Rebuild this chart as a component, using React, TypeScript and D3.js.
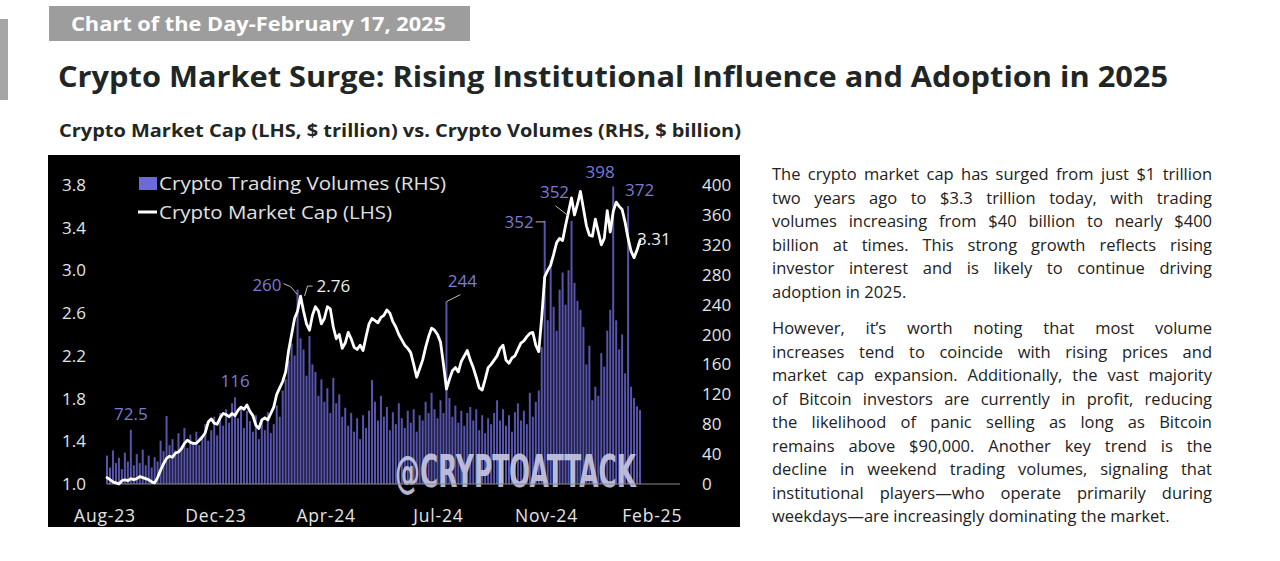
import React, { useLayoutEffect, useRef } from "react";
import * as d3 from "d3";

// Crypto market cap ($ trillion), roughly every 3 days Aug-23 .. Feb-25
const capValues: number[] = [
  1.06, 1.04, 1.02, 1.01, 1.0, 1.03, 1.04, 1.03, 1.05, 1.04,
  1.05, 1.07, 1.06, 1.05, 1.04, 1.02, 1.01, 1.06, 1.13, 1.19,
  1.24, 1.26, 1.25, 1.29, 1.3, 1.33, 1.38, 1.41, 1.39, 1.38,
  1.38, 1.41, 1.44, 1.48, 1.58, 1.61, 1.57, 1.56, 1.62, 1.66,
  1.65, 1.63, 1.66, 1.64, 1.69, 1.72, 1.7, 1.74, 1.68, 1.64,
  1.55, 1.52, 1.6, 1.62, 1.6, 1.66, 1.72, 1.84, 1.9, 1.96,
  2.05, 2.25, 2.4, 2.55, 2.62, 2.76, 2.62, 2.5, 2.44, 2.58,
  2.66, 2.62, 2.5, 2.55, 2.66, 2.64, 2.47, 2.36, 2.4, 2.27,
  2.32, 2.42, 2.36, 2.28, 2.26, 2.3, 2.25, 2.38, 2.5, 2.55,
  2.53, 2.51, 2.56, 2.58, 2.63, 2.6, 2.52, 2.47, 2.4, 2.35,
  2.3, 2.27, 2.23, 2.12, 2.0, 2.08, 2.16, 2.28, 2.38, 2.46,
  2.44, 2.4, 2.33, 2.12, 1.89, 1.98, 2.06, 2.09, 2.05, 2.15,
  2.2, 2.25, 2.16, 2.09, 2.0, 1.9, 1.88, 1.98, 2.09, 2.12,
  2.16, 2.2, 2.27, 2.3, 2.16, 2.13, 2.18, 2.2, 2.26, 2.32,
  2.34, 2.38, 2.41, 2.42, 2.3, 2.24, 2.56, 2.94, 3.0, 3.05,
  3.15, 3.26, 3.3, 3.28, 3.42, 3.55, 3.68, 3.52, 3.62, 3.74,
  3.58, 3.42, 3.33, 3.32, 3.48, 3.36, 3.24, 3.3, 3.56, 3.36,
  3.55, 3.64, 3.6, 3.57, 3.45, 3.3, 3.18, 3.12, 3.19, 3.28,
];

// Crypto trading volumes ($ billion), same dates
const volValues: number[] = [
  38, 22, 45, 28, 35, 20, 42, 30, 72.5, 25,
  40, 28, 46, 25, 38, 22, 36, 30, 58, 44,
  91, 52, 60, 45, 68, 50, 75, 48, 66, 55,
  70, 52, 64, 80, 58, 72, 90, 65, 95, 78,
  100, 82, 108, 116, 88, 104, 75, 98, 84, 70,
  92, 60, 85, 72, 96, 68, 80, 105, 90, 125,
  140, 165, 188, 172, 260, 195, 180, 145, 198, 160,
  150, 118, 140, 110, 128, 95, 142, 108, 120, 90,
  102, 78, 95, 70, 88, 60, 92, 75, 98, 139,
  110, 85, 118, 90, 103, 72, 96, 80, 108, 88,
  75, 98, 82, 100, 70, 92, 85, 110, 95, 122,
  100, 88, 112, 95, 244, 115, 90, 105, 82, 98,
  78, 95, 103, 85, 100, 72, 92, 68, 88, 80,
  95, 112, 85, 100, 78, 92, 70, 96, 108, 85,
  98, 80, 122, 90, 110, 125, 183, 352, 219, 300,
  237, 205, 260, 283, 240, 286, 352, 269, 245, 233,
  210, 160, 185, 112, 130, 118, 175, 157, 205, 233,
  398, 219, 180, 200, 148, 372, 130, 115, 104, 99,
];

const xTickLabels = ["Aug-23", "Dec-23", "Apr-24", "Jul-24", "Nov-24", "Feb-25"];
const xTickIdx = [-0.7, 36.6, 73.6, 111.3, 147.6, 183.1];
const leftTicks = [1.0, 1.4, 1.8, 2.2, 2.6, 3.0, 3.4, 3.8];
const rightTicks = [0, 40, 80, 120, 160, 200, 240, 280, 320, 360, 400];

const headerText = "Chart of the Day-February 17, 2025";
const titleText = "Crypto Market Surge: Rising Institutional Influence and Adoption in 2025";
const subtitleText = "Crypto Market Cap (LHS, $ trillion) vs. Crypto Volumes (RHS, $ billion)";
const legendVol = "Crypto Trading Volumes (RHS)";
const legendCap = "Crypto Market Cap (LHS)";
const watermark = "@CRYPTOATTACK";

const para1 = [
  "The crypto market cap has surged from just $1 trillion",
  "two years ago to $3.3 trillion today, with trading",
  "volumes increasing from $40 billion to nearly $400",
  "billion at times. This strong growth reflects rising",
  "investor interest and is likely to continue driving",
  "adoption in 2025.",
];
const para2 = [
  "However, it\u2019s worth noting that most volume",
  "increases tend to coincide with rising prices and",
  "market cap expansion. Additionally, the vast majority",
  "of Bitcoin investors are currently in profit, reducing",
  "the likelihood of panic selling as long as Bitcoin",
  "remains above $90,000. Another key trend is the",
  "decline in weekend trading volumes, signaling that",
  "institutional players\u2014who operate primarily during",
  "weekdays\u2014are increasingly dominating the market.",
];

const F = "'Open Sans', 'DejaVu Sans', sans-serif";
const PURPLE = "#7b79d6";

export default function App() {
  const gRef = useRef<SVGGElement>(null);

  useLayoutEffect(() => {
    const run = () => {
      const g = gRef.current;
      if (!g) return;
      g.querySelectorAll("text[data-justify]").forEach((t: any) => {
        const target = +t.getAttribute("data-justify");
        t.setAttribute("word-spacing", "0");
        const w = t.getComputedTextLength();
        const spaces = (t.textContent.match(/ /g) || []).length;
        if (spaces > 0) t.setAttribute("word-spacing", String((target - w) / spaces));
      });
    };
    run();
    (document as any).fonts?.ready?.then(run);
  }, []);

  const N = capValues.length;
  const x = d3.scaleLinear().domain([0, N - 1]).range([107, 640]);
  const yL = d3.scaleLinear().domain([1.0, 3.8]).range([484, 185]);
  const yR = d3.scaleLinear().domain([0, 400]).range([484, 185]);

  const line = d3
    .line<number>()
    .x((_, i) => x(i))
    .y((d) => yL(d));

  const bw = 2.0;
  const bx = (i: number) => x(i);
  const bt = (i: number) => yR(volValues[i]);

  const lastI = N - 1;
  const lineH = 23.55;

  return (
    <svg
      width={1280}
      height={561}
      style={{ position: "absolute", left: 0, top: 0, background: "#fff" }}
      fontFamily={F}
    >
      <rect x={0} y={0} width={1280} height={561} fill="#fff" />
      {/* left gray bar */}
      <rect x={0} y={19} width={8} height={81} fill="#a6a6a6" />
      {/* header box */}
      <rect x={49} y={6} width={421} height={35} fill="#9d9d9d" />
      <text x={71} y={31} fill="#fff" fontSize={19.5} fontWeight={700} textLength={375} lengthAdjust="spacingAndGlyphs">
        {headerText}
      </text>
      <text x={58} y={87} fill="#1f2626" fontSize={28} fontWeight={700} textLength={1110} lengthAdjust="spacingAndGlyphs">
        {titleText}
      </text>
      <text x={59} y={137} fill="#1f2626" fontSize={17.5} fontWeight={700} textLength={682} lengthAdjust="spacingAndGlyphs">
        {subtitleText}
      </text>

      {/* chart panel */}
      <rect x={48} y={155} width={692} height={372} fill="#000" />

      {/* volume bars */}
      <g fill="#5654ab">
        {volValues.map((v, i) => (
          <rect key={i} x={bx(i) - bw / 2} y={yR(v)} width={bw} height={yR(0) - yR(v)} />
        ))}
      </g>

      {/* watermark */}
      <g transform="translate(395,487) scale(1,1.38)">
        <text
          x={0}
          y={0}
          fill="#c9c8e2"
          fillOpacity={0.92}
          fontFamily="'Liberation Sans Narrow', 'DejaVu Sans Condensed', sans-serif"
          fontWeight={700}
          fontSize={32}
          textLength={241}
          lengthAdjust="spacingAndGlyphs"
        >
          {watermark}
        </text>
      </g>

      {/* baseline */}
      <line x1={107} x2={680} y1={yR(0)} y2={yR(0)} stroke="#8a8a8a" strokeWidth={1} />

      {/* market cap line */}
      <path d={line(capValues) || ""} fill="none" stroke="#fff" strokeWidth={2.8} strokeLinejoin="round" strokeLinecap="round" />

      {/* left axis */}
      <g fill="#e4e4e4" fontSize={17}>
        {leftTicks.map((t) => (
          <text key={t} x={86} y={yL(t) + 6} textAnchor="end">
            {t.toFixed(1)}
          </text>
        ))}
      </g>
      {/* right axis */}
      <g fill="#e4e4e4" fontSize={17}>
        {rightTicks.map((t) => (
          <text key={t} x={702} y={yR(t) + 6} textAnchor="start">
            {t}
          </text>
        ))}
      </g>
      {/* x axis */}
      <g fill="#e4e4e4" fontSize={17.5} letterSpacing={0.8}>
        {xTickLabels.map((l, k) => (
          <text key={l} x={x(xTickIdx[k])} y={522} textAnchor="middle">
            {l}
          </text>
        ))}
      </g>

      {/* legend */}
      <rect x={139} y={177} width={18} height={13} fill="#6c6ad8" />
      <text x={159} y={190} fill="#e0e0e0" fontSize={18} textLength={287} lengthAdjust="spacingAndGlyphs">
        {legendVol}
      </text>
      <line x1={138} x2={157} y1={212} y2={212} stroke="#fff" strokeWidth={3} />
      <text x={159} y={219} fill="#e0e0e0" fontSize={18} textLength={233} lengthAdjust="spacingAndGlyphs">
        {legendCap}
      </text>

      {/* annotations */}
      <g fontSize={17} fill={PURPLE}>
        <text x={bx(8)} y={bt(8) - 10} textAnchor="middle">72.5</text>
        <text x={bx(43)} y={bt(43) - 10} textAnchor="middle">116</text>
        <text x={bx(64) - 16} y={bt(64) + 1} textAnchor="end">260</text>
        <text x={bx(114) + 16} y={bt(114) - 15} textAnchor="middle">244</text>
        <text x={bx(147) - 11} y={bt(147) + 7} textAnchor="end">352</text>
        <text x={bx(156) - 17} y={bt(156) - 23} textAnchor="middle">352</text>
        <text x={bx(170) - 13} y={bt(170) - 8} textAnchor="middle">398</text>
        <text x={bx(175) - 3} y={bt(175) - 10} textAnchor="start">372</text>
      </g>
      <g fill="none" stroke="#bbb" strokeWidth={1}>
        <polyline points={`${bx(64) - 14},${bt(64) - 6} ${bx(64) - 7},${bt(64) - 3} ${bx(64)},${bt(64) + 5}`} />
        <polyline points={`${bx(114) + 14},${bt(114) - 7} ${bx(114)},${bt(114)}`} />
        <polyline points={`${bx(147) - 9},${bt(147) + 1} ${bx(147)},${bt(147) + 1}`} />
        <polyline points={`${bx(156) - 16},${bt(156) - 15} ${bx(156) - 3},${bt(156) - 5}`} />
        <polyline points={`${bx(65) + 12},${yL(capValues[65]) - 10} ${bx(65) + 7},${yL(capValues[65]) - 10} ${bx(65) + 4},${yL(capValues[65])}`} />
      </g>
      <g fontSize={17} fill="#eee">
        <text x={bx(65) + 16} y={yL(capValues[65]) - 4}>2.76</text>
        <text x={x(lastI) - 3} y={yL(capValues[lastI]) + 4}>3.31</text>
      </g>

      {/* commentary */}
      <g ref={gRef} fill="#222" fontSize={16.5}>
        {para1.map((l, k) => (
          <text
            key={"a" + k}
            x={772}
            y={180 + k * lineH}
            {...(k < para1.length - 1 ? { "data-justify": 440 } : {})}
          >
            {l}
          </text>
        ))}
        {para2.map((l, k) => (
          <text
            key={"b" + k}
            x={772}
            y={334 + k * lineH}
            {...(k < para2.length - 1 ? { "data-justify": 440 } : {})}
          >
            {l}
          </text>
        ))}
      </g>
    </svg>
  );
}
